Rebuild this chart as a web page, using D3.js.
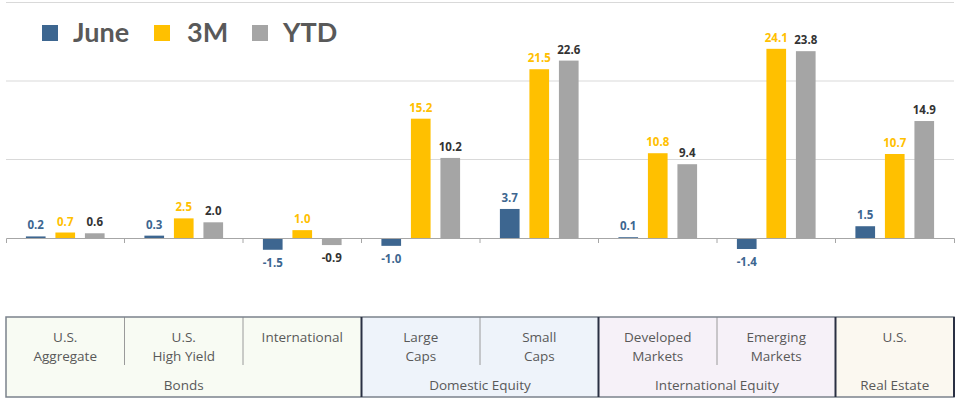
<!DOCTYPE html>
<html><head><meta charset="utf-8">
<script src="https://cdn.jsdelivr.net/npm/d3@7"></script>
<style>body{margin:0;background:#fff;}svg{display:block;}</style>
</head><body>
<script>
const categories = ["U.S. Aggregate","U.S. High Yield","International","Large Caps","Small Caps","Developed Markets","Emerging Markets","U.S. Real Estate"];
const catLines = [["U.S.","Aggregate"],["U.S.","High Yield"],["International"],["Large","Caps"],["Small","Caps"],["Developed","Markets"],["Emerging","Markets"],["U.S."]];
const seriesNames = ["June","3M","YTD"];
const june = [0.2,0.3,-1.5,-1.0,3.7,0.1,-1.4,1.5];
const threeM = [0.7,2.5,1.0,15.2,21.5,10.8,24.1,10.7];
const ytd = [0.6,2.0,-0.9,10.2,22.6,9.4,23.8,14.9];
const groups = ["Bonds","Domestic Equity","International Equity","Real Estate"];
const groupSpans = [[0,3],[3,5],[5,7],[7,8]];
const groupFill = ["#f8fbf3","#eef3fa","#f6f1f8","#fbf8f0"];
const gridTicks = [10,20,30];

const W=960,H=406;
const barColor = {"June":"#3d6690","3M":"#ffc000","YTD":"#a5a5a5"};
const labelColor = {"June":"#3d6690","3M":"#ffc000","YTD":"#333333"};
const values = {"June":june,"3M":threeM,"YTD":ytd};

const svg = d3.select("body").append("svg").attr("width",W).attr("height",H);
const x = d3.scaleBand().domain(categories).range([6,954]);
const bw = x.bandwidth();
const x1 = d3.scaleBand().domain(seriesNames).range([bw*0.168, bw*0.832]).paddingInner(1/3);
const y = d3.scaleLinear().domain([0,30]).range([238,2.5]);

// gridlines
svg.append("g").selectAll("line").data(gridTicks).join("line")
  .attr("x1",6).attr("x2",954).attr("y1",d=>y(d)).attr("y2",d=>y(d))
  .attr("stroke","#d9d9d9").attr("stroke-width",1);

// bars
const data = [];
categories.forEach((c,i)=>seriesNames.forEach(s=>data.push({c,s,v:values[s][i]})));
svg.append("g").selectAll("rect").data(data).join("rect")
  .attr("x",d=>x(d.c)+x1(d.s)).attr("width",x1.bandwidth())
  .attr("y",d=>y(Math.max(0,d.v))).attr("height",d=>Math.abs(y(d.v)-y(0)))
  .attr("fill",d=>barColor[d.s]);

// axis at zero
const axis = d3.axisBottom(x).tickSize(5).tickFormat("");
const axG = svg.append("g").attr("transform",`translate(0,${y(0)})`).call(axis);
axG.select(".domain").attr("stroke","#a6a6a6");
axG.selectAll(".tick").remove();
axG.selectAll(".bt").data(categories.slice(1)).join("line")
  .attr("x1",d=>x(d)).attr("x2",d=>x(d)).attr("y1",0).attr("y2",5).attr("stroke","#a6a6a6");

// value labels
svg.append("g").selectAll("text").data(data).join("text")
  .attr("x",d=>x(d.c)+x1(d.s)+x1.bandwidth()/2)
  .attr("y",d=>d.v>=0 ? y(d.v)-7 : y(d.v)+17)
  .attr("text-anchor","middle")
  .attr("font-family","'Open Sans', sans-serif").attr("font-weight","bold").attr("font-size",11.5)
  .attr("fill",d=>labelColor[d.s]).text(d=>d.v.toFixed(1));

// legend
const legX = [42,154,252], legTX=[73,187,283];
seriesNames.forEach((s,i)=>{
  svg.append("rect").attr("x",legX[i]).attr("y",25).attr("width",16).attr("height",16).attr("fill",barColor[s]);
  svg.append("text").attr("x",legTX[i]).attr("y",42).text(s)
    .attr("font-family","Lato, sans-serif").attr("font-weight","bold").attr("font-size",27).attr("fill","#595959");
});

// table
const tTop=317,tBot=397;
const tg = svg.append("g");
groups.forEach((g,gi)=>{
  const [a,b]=groupSpans[gi];
  const x0=x(categories[a]), xEnd = b<categories.length? x(categories[b]) : x.range()[1];
  tg.append("rect").attr("x",x0).attr("y",tTop).attr("width",xEnd-x0).attr("height",tBot-tTop).attr("fill",groupFill[gi]);
  tg.append("text").attr("x",(x0+xEnd)/2).attr("y",390).attr("text-anchor","middle").text(g)
    .attr("font-family","'Open Sans', sans-serif").attr("font-size",13.5).attr("fill","#595959");
  for(let k=a+1;k<b;k++){
    tg.append("line").attr("x1",x(categories[k])).attr("x2",x(categories[k])).attr("y1",tTop).attr("y2",365).attr("stroke","#9a9a9a");
  }
});
tg.append("rect").attr("x",6).attr("y",tTop).attr("width",948).attr("height",tBot-tTop)
  .attr("fill","none").attr("stroke","#7b828c").attr("stroke-width",1.5);
[3,5,7].forEach(k=>{
  tg.append("line").attr("x1",x(categories[k])).attr("x2",x(categories[k])).attr("y1",tTop).attr("y2",tBot).attr("stroke","#2a3043").attr("stroke-width",2);
});
tg.append("line").attr("x1",954).attr("x2",954).attr("y1",tTop).attr("y2",tBot).attr("stroke","#2a3043").attr("stroke-width",2);
categories.forEach((c,i)=>{
  const t = tg.append("text").attr("text-anchor","middle")
    .attr("font-family","'Open Sans', sans-serif").attr("font-size",13.5).attr("fill","#595959");
  catLines[i].forEach((ln,j)=>{
    t.append("tspan").attr("x",x(c)+bw/2).attr("y",342+j*19).text(ln);
  });
});
</script>
</body></html>
